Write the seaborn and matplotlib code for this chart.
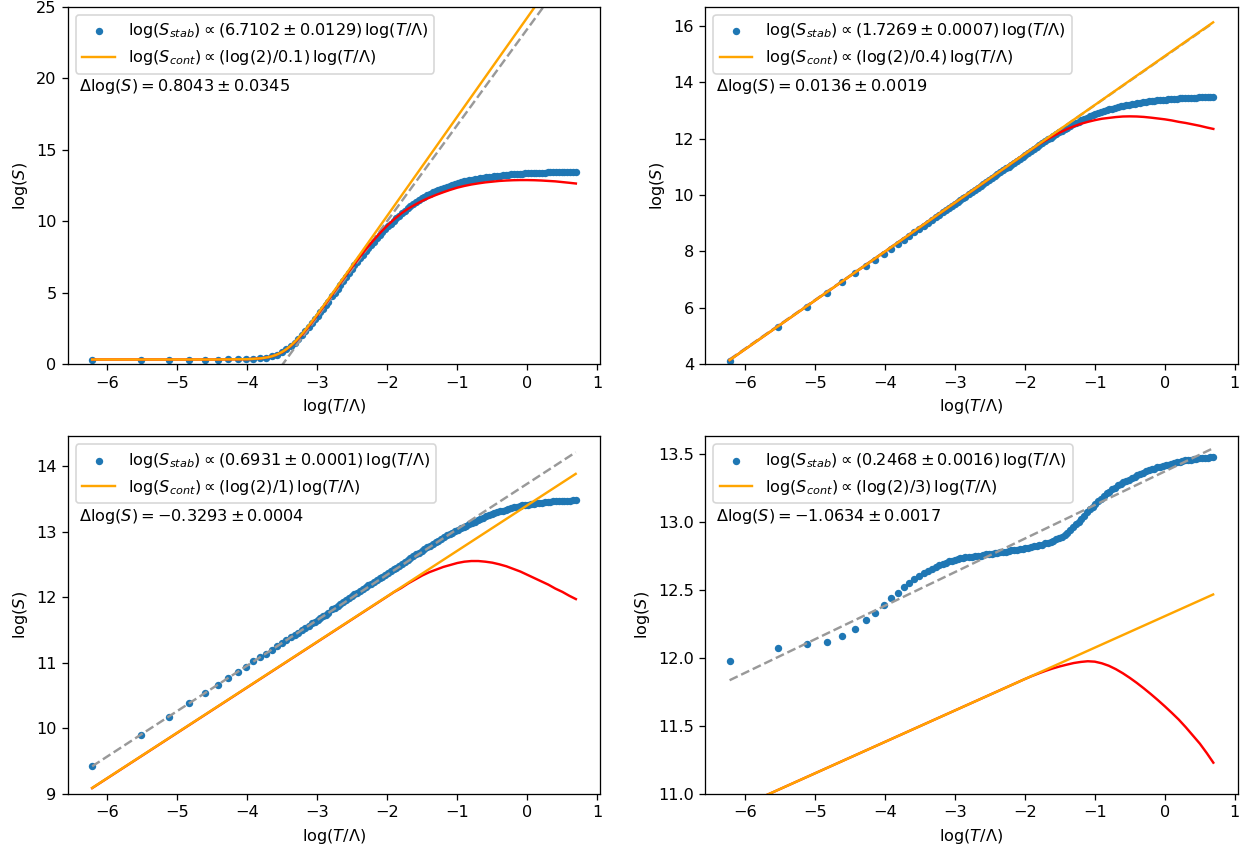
import numpy as np
import matplotlib
matplotlib.use("Agg")
import matplotlib.pyplot as plt
import seaborn as sns

# Sampled temperatures, log(T/Lambda): the first 29 coarse points, then a dense run
log_T = [
    -6.215, -5.521, -5.116, -4.828, -4.605, -4.423, -4.269, -4.135, -4.017, -3.912,
    -3.817, -3.730, -3.650, -3.576, -3.507, -3.442, -3.381, -3.324, -3.270, -3.219,
    -3.170, -3.124, -3.079, -3.037, -2.996, -2.957, -2.919, -2.882, -2.847,
    -2.79, -2.75, -2.71, -2.67, -2.63, -2.59, -2.55, -2.51, -2.47, -2.43,
    -2.39, -2.35, -2.31, -2.27, -2.23, -2.19, -2.15, -2.11, -2.07, -2.03,
    -1.99, -1.95, -1.91, -1.87, -1.83, -1.79, -1.75, -1.71, -1.67, -1.63,
    -1.59, -1.55, -1.51, -1.47, -1.43, -1.39, -1.35, -1.31, -1.27, -1.23,
    -1.19, -1.15, -1.11, -1.07, -1.03, -0.99, -0.95, -0.91, -0.87, -0.83,
    -0.79, -0.75, -0.71, -0.67, -0.63, -0.59, -0.55, -0.51, -0.47, -0.43,
    -0.39, -0.35, -0.31, -0.27, -0.23, -0.19, -0.15, -0.11, -0.07, -0.03,
    0.01, 0.05, 0.09, 0.13, 0.17, 0.21, 0.25, 0.29, 0.33, 0.37,
    0.41, 0.45, 0.49, 0.53, 0.57, 0.61, 0.65, 0.69,
]

# log(S_stab) for a = 0.1, 0.4, 1, 3
log_S_a01 = [
    0.336, 0.336, 0.336, 0.336, 0.336, 0.337, 0.341, 0.346, 0.357, 0.379,
    0.415, 0.474, 0.561, 0.683, 0.842, 1.039, 1.266, 1.514, 1.778, 2.050,
    2.326, 2.598, 2.872, 3.135, 3.395, 3.645, 3.893, 4.135, 4.366,
    4.75, 5.02, 5.29, 5.56, 5.83, 6.10, 6.38, 6.65, 6.91, 7.16,
    7.41, 7.66, 7.90, 8.13, 8.36, 8.58, 8.80, 9.01, 9.22, 9.43,
    9.64, 9.84, 10.03, 10.21, 10.40, 10.57, 10.74, 10.90, 11.05, 11.20,
    11.34, 11.47, 11.60, 11.71, 11.82, 11.92, 12.02, 12.11, 12.20, 12.28,
    12.36, 12.43, 12.50, 12.57, 12.63, 12.69, 12.74, 12.79, 12.83, 12.87,
    12.91, 12.95, 12.98, 13.01, 13.04, 13.07, 13.10, 13.12, 13.14, 13.16,
    13.18, 13.20, 13.22, 13.25, 13.27, 13.28, 13.30, 13.31, 13.33, 13.34,
    13.35, 13.36, 13.37, 13.38, 13.39, 13.40, 13.40, 13.41, 13.42, 13.42,
    13.43, 13.43, 13.44, 13.44, 13.45, 13.45, 13.46, 13.46,
]
log_S_a04 = [
    4.12, 5.32, 6.02, 6.52, 6.90, 7.22, 7.48, 7.71, 7.92, 8.10,
    8.26, 8.41, 8.55, 8.68, 8.80, 8.91, 9.02, 9.12, 9.21, 9.30,
    9.38, 9.46, 9.54, 9.61, 9.68, 9.75, 9.82, 9.88, 9.94,
    10.04, 10.11, 10.18, 10.25, 10.31, 10.38, 10.45, 10.52, 10.59, 10.66,
    10.73, 10.80, 10.87, 10.94, 11.00, 11.07, 11.14, 11.21, 11.28, 11.35,
    11.42, 11.49, 11.56, 11.63, 11.70, 11.77, 11.83, 11.90, 11.97, 12.03,
    12.10, 12.16, 12.22, 12.28, 12.34, 12.39, 12.45, 12.50, 12.55, 12.60,
    12.65, 12.70, 12.74, 12.79, 12.83, 12.87, 12.90, 12.94, 12.97, 13.00,
    13.03, 13.06, 13.09, 13.11, 13.14, 13.16, 13.18, 13.20, 13.22, 13.24,
    13.26, 13.27, 13.29, 13.30, 13.32, 13.33, 13.34, 13.35, 13.36, 13.37,
    13.38, 13.39, 13.40, 13.41, 13.41, 13.42, 13.43, 13.43, 13.44, 13.44,
    13.45, 13.45, 13.46, 13.46, 13.46, 13.47, 13.47, 13.47,
]
log_S_a1 = [
    9.42, 9.90, 10.18, 10.38, 10.54, 10.66, 10.77, 10.86, 10.94, 11.02,
    11.08, 11.14, 11.20, 11.25, 11.30, 11.34, 11.39, 11.43, 11.46, 11.50,
    11.53, 11.56, 11.60, 11.62, 11.65, 11.68, 11.71, 11.73, 11.76,
    11.82, 11.84, 11.87, 11.90, 11.93, 11.95, 11.98, 12.01, 12.04, 12.06,
    12.09, 12.12, 12.15, 12.18, 12.20, 12.23, 12.26, 12.29, 12.31, 12.34,
    12.37, 12.40, 12.43, 12.45, 12.48, 12.51, 12.54, 12.56, 12.59, 12.62,
    12.65, 12.67, 12.70, 12.73, 12.76, 12.78, 12.81, 12.84, 12.86, 12.89,
    12.92, 12.94, 12.96, 12.98, 13.01, 13.03, 13.05, 13.07, 13.09, 13.11,
    13.13, 13.15, 13.17, 13.19, 13.21, 13.23, 13.25, 13.26, 13.28, 13.29,
    13.31, 13.32, 13.33, 13.35, 13.36, 13.37, 13.38, 13.39, 13.40, 13.40,
    13.41, 13.42, 13.42, 13.43, 13.44, 13.44, 13.45, 13.45, 13.45, 13.46,
    13.46, 13.46, 13.47, 13.47, 13.47, 13.47, 13.48, 13.48,
]
log_S_a3 = [
    11.98, 12.07, 12.10, 12.12, 12.16, 12.21, 12.28, 12.33, 12.39, 12.44,
    12.48, 12.52, 12.55, 12.58, 12.60, 12.62, 12.64, 12.655, 12.67, 12.68,
    12.69, 12.70, 12.71, 12.715, 12.72, 12.725, 12.73, 12.735, 12.74,
    12.74, 12.74, 12.745, 12.75, 12.75, 12.755, 12.76, 12.76, 12.765, 12.77,
    12.77, 12.775, 12.78, 12.78, 12.785, 12.79, 12.79, 12.795, 12.80, 12.80,
    12.81, 12.81, 12.815, 12.82, 12.825, 12.83, 12.83, 12.84, 12.845, 12.85,
    12.86, 12.87, 12.88, 12.89, 12.90, 12.92, 12.94, 12.96, 12.98, 13.00,
    13.02, 13.04, 13.07, 13.09, 13.11, 13.13, 13.15, 13.17, 13.19, 13.21,
    13.22, 13.24, 13.25, 13.27, 13.28, 13.29, 13.30, 13.31, 13.32, 13.33,
    13.34, 13.35, 13.36, 13.37, 13.38, 13.385, 13.39, 13.40, 13.405, 13.41,
    13.415, 13.42, 13.425, 13.43, 13.435, 13.44, 13.445, 13.45, 13.45, 13.455,
    13.46, 13.46, 13.465, 13.47, 13.47, 13.47, 13.475, 13.475,
]

# Low-temperature expansion (red curves)
red_x_a01 = [-6.215, -4.5, -4.0, -3.8, -3.7, -3.6, -3.5, -3.4, -3.3, -3.2, -3.1, -3.0,
             -2.9, -2.8, -2.7, -2.6, -2.5, -2.4, -2.3, -2.2, -2.1, -2.0, -1.9, -1.8, -1.7,
             -1.6, -1.5, -1.4, -1.3, -1.2, -1.1, -1.0, -0.9, -0.8, -0.7, -0.6, -0.5,
             -0.4, -0.3, -0.2, -0.1, 0.0, 0.1, 0.2, 0.3, 0.4, 0.5, 0.6, 0.693]
red_y_a01 = [0.336, 0.337, 0.358, 0.42, 0.50, 0.63, 0.85, 1.19, 1.64, 2.18, 2.79, 3.44,
             4.11, 4.79, 5.48, 6.16, 6.82, 7.47, 8.08, 8.65, 9.20, 9.70, 10.15, 10.55, 10.89,
             11.17, 11.43, 11.65, 11.85, 12.03, 12.20, 12.35, 12.47, 12.57, 12.65, 12.72, 12.77,
             12.82, 12.85, 12.87, 12.88, 12.88, 12.87, 12.85, 12.82, 12.79, 12.74, 12.69, 12.64]
red_x_a04 = [-6.215, -2.0, -1.9, -1.8, -1.7, -1.6, -1.5, -1.4, -1.3, -1.2, -1.1, -1.0,
             -0.9, -0.8, -0.7, -0.6, -0.5, -0.4, -0.3, -0.2, -0.1, 0.0, 0.1, 0.2, 0.3,
             0.4, 0.5, 0.6, 0.693]
red_y_a04 = [4.15, 11.45, 11.62, 11.79, 11.94, 12.08, 12.21, 12.33, 12.43, 12.52, 12.59, 12.65,
             12.70, 12.73, 12.76, 12.78, 12.785, 12.78, 12.765, 12.74, 12.71, 12.68, 12.64, 12.59, 12.55,
             12.50, 12.45, 12.39, 12.34]
red_x_a1 = [-6.215, -2.0, -1.9, -1.8, -1.7, -1.6, -1.5, -1.4, -1.3, -1.2, -1.1, -1.0,
            -0.9, -0.8, -0.7, -0.6, -0.5, -0.4, -0.3, -0.2, -0.1, 0.0, 0.1, 0.2, 0.3,
            0.4, 0.5, 0.6, 0.693]
red_y_a1 = [9.09, 12.01, 12.08, 12.14, 12.21, 12.27, 12.33, 12.38, 12.42, 12.46, 12.49, 12.52,
            12.54, 12.55, 12.55, 12.54, 12.525, 12.50, 12.47, 12.43, 12.39, 12.34, 12.29, 12.24, 12.19,
            12.13, 12.08, 12.02, 11.97]
red_x_a3 = [-6.215, -2.0, -1.9, -1.8, -1.7, -1.6, -1.5, -1.4, -1.3, -1.2, -1.1, -1.0,
            -0.9, -0.8, -0.7, -0.6, -0.5, -0.4, -0.3, -0.2, -0.1, 0.0, 0.1, 0.2, 0.3,
            0.4, 0.5, 0.6, 0.693]
red_y_a3 = [10.87, 11.844, 11.866, 11.886, 11.905, 11.922, 11.937, 11.950, 11.962, 11.970, 11.975, 11.972,
            11.960, 11.942, 11.917, 11.887, 11.853, 11.816, 11.776, 11.734, 11.690, 11.644, 11.596, 11.546, 11.49,
            11.43, 11.37, 11.30, 11.23]

# Continuum curve for a = 0.1 (floor at low T, then the log(2)/0.1 power law)
cont_x_a01 = [-6.215, -4.5, -4.0, -3.8, -3.7, -3.65, -3.6, -3.55, -3.5, -3.45, -3.4, -3.35,
              -3.3, -3.2, -3.1, -3.0, -2.9, -2.8, -2.6, 0.693]
cont_y_a01 = [0.336, 0.337, 0.358, 0.421, 0.500, 0.560, 0.640, 0.742, 0.872, 1.030, 1.219, 1.436,
              1.680, 2.233, 2.849, 3.500, 4.171, 4.854, 6.234, 29.05]

# Fit results and continuum parameters per panel
cont_a = ["0.1", "0.4", "1", "3"]
fit_slope = [6.7102, 1.7269, 0.6931, 0.2468]
fit_slope_err = [0.0129, 0.0007, 0.0001, 0.0016]
delta_log_S = [0.8043, 0.0136, -0.3293, -1.0634]
delta_log_S_err = [0.0345, 0.0019, 0.0004, 0.0017]
cont_intercept = [24.25, 14.92, 13.40, 12.306]
y_limits = [(0, 25), (4, 16.67), (9, 14.45), (11, 13.627)]

stab_series = [log_S_a01, log_S_a04, log_S_a1, log_S_a3]
red_series = [(red_x_a01, red_y_a01), (red_x_a04, red_y_a04),
              (red_x_a1, red_y_a1), (red_x_a3, red_y_a3)]

DPI = 116
fig, axes = plt.subplots(2, 2, figsize=(1247 / DPI, 848 / DPI), dpi=DPI)
fig.subplots_adjust(left=0.0545, right=0.9924, bottom=0.0637, top=0.9921,
                    wspace=0.198, hspace=0.2014)

x = np.array(log_T)
x_ends = np.array([x[0], x[-1]])

for i, ax in enumerate(axes.flat):
    slope = fit_slope[i]
    c_cont = cont_intercept[i]
    c_stab = c_cont - delta_log_S[i]

    # linear fit of log(S_stab)
    sns.lineplot(x=x_ends, y=slope * x_ends + c_stab, ax=ax, color="#999999",
                 linestyle="--", linewidth=1.5, sort=False, estimator=None)

    stab_label = (r"$\log(S_{stab}) \propto (%.4f \pm %.4f)\,\log(T/\Lambda)$"
                  % (slope, fit_slope_err[i]))
    sns.scatterplot(x=x, y=np.array(stab_series[i]), ax=ax, color="#1f77b4",
                    s=21, linewidth=0, label=stab_label)

    rx, ry = red_series[i]
    sns.lineplot(x=rx, y=ry, ax=ax, color="red", linewidth=1.5,
                 sort=False, estimator=None)

    cont_label = (r"$\log(S_{cont}) \propto (\log(2)/%s)\,\log(T/\Lambda)$" % cont_a[i])
    if i == 0:
        cx, cy = np.array(cont_x_a01), np.array(cont_y_a01)
    else:
        cx = x_ends
        cy = np.log(2) / float(cont_a[i]) * x_ends + c_cont
    sns.lineplot(x=cx, y=cy, ax=ax, color="orange", linewidth=1.5,
                 sort=False, estimator=None, label=cont_label)

    ax.set_ylim(*y_limits[i])
    ax.set_xlabel(r"$\log(T/\Lambda)$")
    ax.set_ylabel(r"$\log(S)$")
    ax.legend(loc="upper left")
    ax.text(0.02, 0.777,
            r"$\Delta\log(S) = %.4f \pm %.4f$" % (delta_log_S[i], delta_log_S_err[i]),
            transform=ax.transAxes, va="center", ha="left", fontsize=10)

fig.savefig("out.png", dpi=DPI)
